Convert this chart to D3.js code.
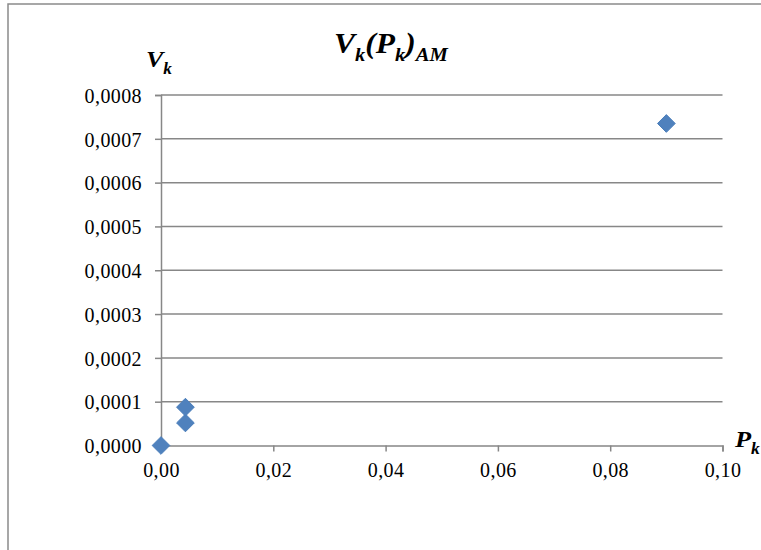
<!DOCTYPE html>
<html><head><meta charset="utf-8">
<script src="https://cdn.jsdelivr.net/npm/d3@7"></script>
<style>html,body{margin:0;padding:0;background:#fff;}svg{display:block;}</style>
</head><body>
<svg id="c" width="761" height="550"></svg>
<script>
const pValues = [0, 0.00435, 0.00435, 0.0900];
const vValues = [0, 0.0000515, 0.0000875, 0.000735];
const xTicks = [0, 0.02, 0.04, 0.06, 0.08, 0.10];
const yTicks = [0, 0.0001, 0.0002, 0.0003, 0.0004, 0.0005, 0.0006, 0.0007, 0.0008];

const svg = d3.select("#c");
const font = "'Liberation Serif','Times New Roman',serif";
const gridColor = "#878787";

svg.append("rect").attr("x",8).attr("y",4).attr("width",800).attr("height",600)
  .attr("fill","#fff").attr("stroke","#8a8a8a").attr("stroke-width",1.5);

const x = d3.scaleLinear().domain([0,0.10]).range([161,722.5]);
const y = d3.scaleLinear().domain([0,0.0008]).range([445.5,95]);
const fmtX = v => d3.format(".2f")(v).replace(".",",");
const fmtY = v => d3.format(".4f")(v).replace(".",",");

svg.append("g").selectAll("line").data(yTicks.filter(d=>d>0)).join("line")
  .attr("x1",x(0)).attr("x2",x(0.10)).attr("y1",d=>y(d)).attr("y2",d=>y(d))
  .attr("stroke",gridColor).attr("stroke-width",1.5);

const yAxis = svg.append("g").attr("transform",`translate(${x(0)},0)`)
  .call(d3.axisLeft(y).tickValues(yTicks).tickFormat(fmtY).tickSizeOuter(0).tickSize(6).tickPadding(13));
const xAxis = svg.append("g").attr("transform",`translate(0,${y(0)})`)
  .call(d3.axisBottom(x).tickValues(xTicks).tickFormat(fmtX).tickSizeOuter(0).tickSize(6).tickPadding(11));
[yAxis,xAxis].forEach(a=>{
  a.selectAll("path,line").attr("stroke",gridColor).attr("stroke-width",1.5);
  a.selectAll("text").attr("font-family",font).attr("font-size",20).attr("letter-spacing","0.4px").attr("fill","#000");
});
yAxis.selectAll("text").attr("dy","0.36em");

const diamond = d3.symbol().type(d3.symbolDiamond2).size(200);
svg.append("g").selectAll("path").data(pValues.map((p,i)=>[p,vValues[i]])).join("path")
  .attr("d",diamond).attr("transform",d=>`translate(${x(d[0])},${y(d[1])})`)
  .attr("fill","#4F81BD").attr("stroke","#4A7EBB").attr("stroke-width",1);

function fitX(sel, x0, y0, targetW){
  const w = sel.node().getBBox().width;
  sel.attr("x",0).attr("y",0).attr("transform",`translate(${x0},${y0}) scale(${targetW/w},1)`);
}

const t = svg.append("text").attr("font-family",font)
  .attr("font-weight","bold").attr("font-style","italic").attr("font-size",29).attr("fill","#000");
t.append("tspan").text("V");
t.append("tspan").attr("font-size",19).attr("dy",8).text("k");
t.append("tspan").attr("dy",-8).text("(P");
t.append("tspan").attr("font-size",19).attr("dy",8).text("k");
t.append("tspan").attr("dy",-8).text(")");
t.append("tspan").attr("font-size",19).attr("dy",8).text("AM");
fitX(t, 334, 53, 115);

const yl = svg.append("text").attr("font-family",font)
  .attr("font-weight","bold").attr("font-style","italic").attr("font-size",24).attr("fill","#000");
yl.append("tspan").text("V");
yl.append("tspan").attr("font-size",16).attr("dy",7).text("k");
fitX(yl, 146, 67, 26);

const xl = svg.append("text").attr("font-family",font)
  .attr("font-weight","bold").attr("font-style","italic").attr("font-size",24).attr("fill","#000");
xl.append("tspan").text("P");
xl.append("tspan").attr("font-size",16).attr("dy",7).text("k");
fitX(xl, 735, 447, 26);
</script>
</body></html>
